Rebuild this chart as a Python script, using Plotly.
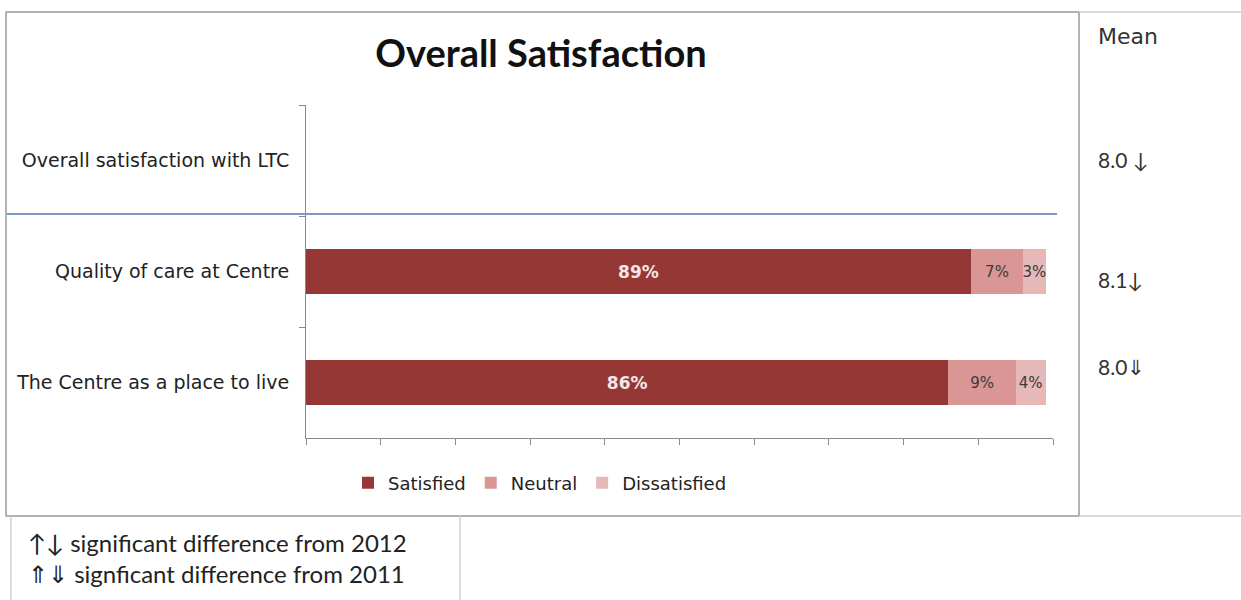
import plotly.graph_objects as go

# Survey items, listed bottom-to-top as they appear on the category axis
categories = [
    "The Centre as a place to live",
    "Quality of care at Centre",
    "Overall satisfaction with LTC",
]
satisfied = [86, 89, None]
neutral = [9, 7, None]
dissatisfied = [4, 3, None]

# Mean score column shown to the right of the bars
mean_labels = ["8.0\u21d3", "8.1\u2193", "8.0 \u2193"]
mean_header = "Mean"

legend_notes = [
    "\u2191\u2193 significant difference from 2012",
    "\u21d1\u21d3 signficant difference from 2011",
]

W, H = 1241, 600


def px(x):
    return x / W


def py(y):
    return 1 - y / H


series = [
    ("Satisfied", satisfied, "#953735", "#f4e6e6", True, 17),
    ("Neutral", neutral, "#d99694", "#3a3a3a", False, 15),
    ("Dissatisfied", dissatisfied, "#e6b9b8", "#3a3a3a", False, 15),
]

fig = go.Figure()
for name, vals, color, tcolor, bold, tsize in series:
    fig.add_trace(go.Bar(
        y=categories,
        x=vals,
        name=name,
        orientation="h",
        marker=dict(color=color, line=dict(width=0)),
        text=[(f"<b>{v}%</b>" if bold else f"{v}%") if v is not None else ""
              for v in vals],
        textposition="inside",
        insidetextanchor="middle",
        constraintext="none",
        textangle=0,
        textfont=dict(family="DejaVu Sans", size=tsize, color=tcolor),
        hoverinfo="skip",
    ))

annotations = []
# Mean column
annotations.append(dict(
    x=px(1096), y=py(36), xref="paper", yref="paper", text=mean_header,
    showarrow=False, xanchor="left", yanchor="middle",
    font=dict(family="DejaVu Sans", size=22, color="#333333"),
))
mean_shift = [16, -8, 1]
for cat, lab, sh in zip(categories, mean_labels, mean_shift):
    annotations.append(dict(
        x=px(1096), y=cat, xref="paper", yref="y", yshift=sh, text=lab,
        showarrow=False, xanchor="left", yanchor="middle",
        font=dict(family="Lato", size=21, color="#333333"),
    ))
# Significance notes
for i, note in enumerate(legend_notes):
    annotations.append(dict(
        x=px(26), y=py(542 + 31 * i), xref="paper", yref="paper", text=note,
        showarrow=False, xanchor="left", yanchor="middle",
        font=dict(family="Lato", size=24, color="#222222"),
    ))

frame = "#9a9a9a"
light = "#cfcfcf"
shapes = [
    # chart frame
    dict(type="rect", xref="paper", yref="paper",
         x0=px(6), x1=px(1079), y0=py(516), y1=py(12),
         line=dict(color=frame, width=1.5)),
    dict(type="line", xref="paper", yref="paper",
         x0=px(1079), x1=1, y0=py(12), y1=py(12),
         line=dict(color=light, width=1.5)),
    dict(type="line", xref="paper", yref="paper",
         x0=px(1079), x1=1, y0=py(516), y1=py(516),
         line=dict(color=light, width=1.5)),
    # notes box
    dict(type="line", xref="paper", yref="paper",
         x0=px(11), x1=px(11), y0=py(516), y1=0,
         line=dict(color=light, width=1.5)),
    dict(type="line", xref="paper", yref="paper",
         x0=px(460), x1=px(460), y0=py(516), y1=0,
         line=dict(color=light, width=1.5)),
    # separator line under the first item
    dict(type="line", xref="paper", yref="paper",
         x0=px(7), x1=px(1057), y0=py(214), y1=py(214),
         line=dict(color="#7b9bc6", width=2)),
]

fig.update_layout(
    width=W, height=H,
    barmode="stack",
    bargap=0.6,
    paper_bgcolor="white",
    plot_bgcolor="white",
    margin=dict(l=0, r=0, t=0, b=0),
    title=dict(text="<b>Overall Satisfaction</b>", x=px(541), y=py(54),
               xanchor="center", yanchor="middle",
               font=dict(family="Lato", size=38, color="#111111")),
    xaxis=dict(
        domain=[px(306), px(1053)], range=[0, 100],
        tickvals=list(range(0, 101, 10)), showticklabels=False,
        ticks="outside", ticklen=6, tickcolor="#8a8a8a",
        showline=True, linecolor="#8a8a8a", linewidth=1,
        showgrid=False, zeroline=False, fixedrange=True,
    ),
    yaxis=dict(
        domain=[py(438), py(105)],
        type="category", categoryorder="array", categoryarray=categories,
        range=[-0.5, 2.5],
        tickson="boundaries", ticks="outside", ticklen=6, tickcolor="#8a8a8a",
        showline=True, linecolor="#8a8a8a", linewidth=1,
        showgrid=False, zeroline=False,
        tickfont=dict(family="DejaVu Sans", size=19, color="#222222"),
        ticklabelstandoff=12,
    ),
    legend=dict(
        orientation="h", x=px(540), y=py(483), xanchor="center", yanchor="middle",
        font=dict(family="DejaVu Sans", size=18, color="#222222"),
        itemwidth=30, traceorder="normal", bgcolor="rgba(0,0,0,0)",
    ),
    annotations=annotations,
    shapes=shapes,
    showlegend=True,
)

fig.write_html("out.html")
